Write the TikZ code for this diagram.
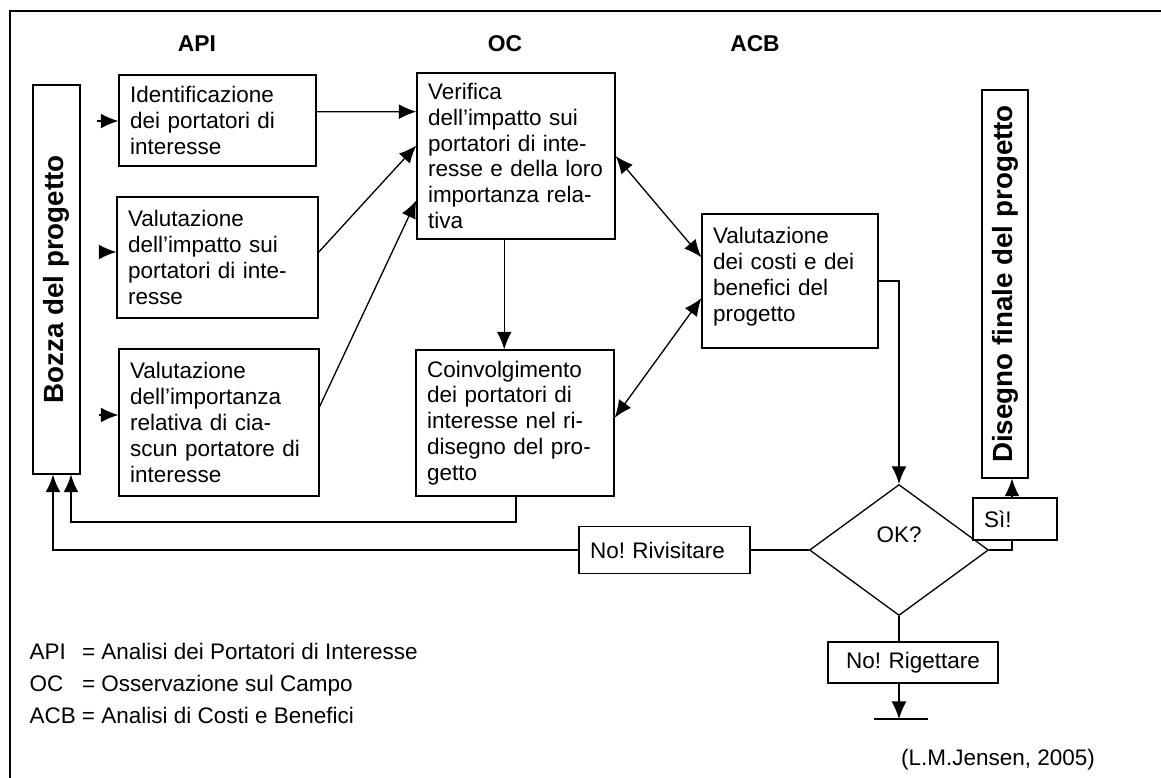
\documentclass[tikz,border=0pt]{standalone}
\usepackage{fontspec}
\setmainfont{Liberation Sans}
\usetikzlibrary{arrows.meta, shapes}
\frenchspacing

\tikzset{
  txt/.style   = {font=\fontsize{12.8}{14.7}\selectfont},
  stage/.style = {draw, rectangle, txt, align=left, inner xsep=0.22cm, inner ysep=0.05cm},
  tag/.style   = {draw, rectangle, txt, inner xsep=0.22cm, inner ysep=0.05cm},
  bar/.style   = {draw, rectangle, rotate=90, font=\fontsize{15.8}{18}\selectfont\bfseries},
  head/.style  = {font=\fontsize{13}{15}\selectfont\bfseries},
  >={Latex[length=10pt, width=8.5pt]},
}

\begin{document}
\begin{tikzpicture}[x=0.02cm, y=-0.02cm, line width=0.75pt]

\useasboundingbox (0,0) rectangle (1161,778);
\draw [line width=1.1pt] (10,778) -- (10,11) -- (1161,11);

% column heads
\node [head] (hapi) at (197,44) {API};
\node [head] (hoc)  at (505,44) {OC};
\node [head] (hacb) at (755,44) {ACB};

% draft and final design
\node [bar, minimum width=7.78cm, minimum height=0.94cm] (bozza)  at (56.5,279.5) {Bozza del progetto};
\node [bar, minimum width=7.76cm, minimum height=0.92cm] (finale) at (1005,284)   {Disegno finale del progetto};

% API
\node [stage, text width=3.50cm, minimum height=1.82cm] (api1) at (217.5,120.5) {Identificazione\\dei portatori di\\interesse};
\node [stage, text width=3.58cm, minimum height=2.42cm] (api2) at (217.5,257.5) {Valutazione\\dell’impatto sui\\portatori di inte-\\resse};
\node [stage, text width=3.56cm, minimum height=2.94cm] (api3) at (219,422.5)   {Valutazione\\dell’importanza\\relativa di cia-\\scun portatore di\\interesse};

% OC
\node [stage, text width=3.52cm, minimum height=3.32cm] (oc1) at (516,156)   {Verifica\\dell’impatto sui\\portatori di inte-\\resse e della loro\\importanza rela-\\tiva};
\node [stage, text width=3.52cm, minimum height=2.92cm] (oc2) at (515,423)   {Coinvolgimento\\dei portatori di\\interesse nel ri-\\disegno del pro-\\getto};

% ACB
\node [stage, text width=3.08cm, minimum height=2.68cm] (acb) at (790,281)   {Valutazione\\dei costi e dei\\benefici del\\progetto\vspace{0.18cm}};

% decision
\node [draw, diamond, txt, minimum width=3.58cm, minimum height=2.62cm, inner sep=0pt, text depth=0.6cm] (ok) at (899,550) {OK?};
\node [tag, align=left,   text width=2.98cm, minimum height=0.94cm] (rivis) at (664.5,550) {No! Rivisitare};
\node [tag, align=left,   text width=1.24cm, minimum height=0.84cm] (si)    at (1015,519)  {Sì!};
\node [tag, align=center, text width=2.96cm, minimum height=0.82cm] (rig)   at (913,662.5) {No! Rigettare};

% legend
\node [txt, anchor=base west] (lapi) at (23,659) {\makebox[1.05cm][l]{API}= Analisi dei Portatori di Interesse};
\node [txt, anchor=base west] (loc)  at (23,691) {\makebox[1.05cm][l]{OC}= Osservazione sul Campo};
\node [txt, anchor=base west] (lacb) at (23,723) {\makebox[1.05cm][l]{ACB}= Analisi di Costi e Benefici};
\node [txt] (src) at (998,760) {(L.M.Jensen, 2005)};

% inputs to API
\coordinate (in1) at (97,121);
\coordinate (in2) at (99,252);
\coordinate (in3) at (99,415);
\draw [->] (in1) -- (in1 -| api1.west);
\draw [->] (in2) -- (in2 -| api2.west);
\draw [->] (in3) -- (in3 -| api3.west);

\path (api1.5)  edge [draw, ->]  (oc1.156);
\path (api2.3)  edge [draw, ->]  (oc1.174);
\path (api3.9)  edge [draw, ->]  (oc1.204);
\path (oc1.262) edge [draw, ->]  (oc1.262 |- oc2.north);
\path (oc1.east) edge [draw, <->] (acb.165);
\path (oc2.3)   edge [draw, <->] (acb.191);

% to the decision
\draw [->] (acb.east) -| (ok.north);
\coordinate (sx) at (1012,550);
\draw (ok.east) -- (sx) -- (sx |- si.south);
\draw [->] (sx |- si.north) -- (sx |- finale.west);
\draw (ok.west) -- (rivis.east);
\draw (ok.south) -- (ok.south |- rig.north);
\coordinate (gnd) at (899,719);
\draw [->] (ok.south |- rig.south) -- (gnd);
\draw (874,719) -- (928,719);

% back to the draft
\coordinate (fb1) at (516,522);
\coordinate (fb2) at (71,522);
\coordinate (fb3) at (53,550);
\draw [->] (fb1 |- oc2.south) -- (fb1) -- (fb2) -- (fb2 |- bozza.west);
\draw [->] (rivis.west) -- (fb3) -- (fb3 |- bozza.west);

\end{tikzpicture}
\end{document}
